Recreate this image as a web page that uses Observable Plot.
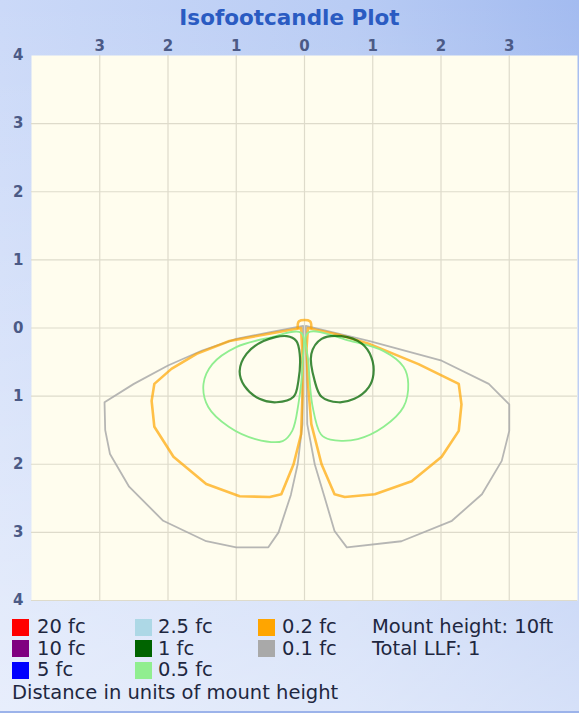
<!DOCTYPE html>
<html><head><meta charset="utf-8">
<script src="https://cdn.jsdelivr.net/npm/d3@7"></script>
<script src="https://cdn.jsdelivr.net/npm/@observablehq/plot@0.6"></script>
<style>
body{margin:0;background:#fff;}
#wrap{position:relative;width:579px;height:711px;border-bottom:2px solid #9cb3ea;overflow:hidden;
 font-family:"DejaVu Sans",sans-serif;
 background:linear-gradient(to bottom, rgba(255,255,255,0) 0%, rgba(255,255,255,0.55) 100%),
            linear-gradient(to right, #cbd9f8 0%, #b9ccf4 60%, #a3bbf0 100%);}
#title{position:absolute;left:0;top:5px;width:579px;text-align:center;font-weight:bold;font-size:21.5px;line-height:26px;color:#2a5bc2;}
#chart{position:absolute;left:0;top:0;}
.sw{position:absolute;width:17px;height:17px;}
.lg{position:absolute;font-size:19.5px;line-height:20px;color:#1e2740;white-space:nowrap;}
</style></head>
<body>
<div id="wrap">
  <div id="chart"></div>
  <div id="title"></div>
  <div id="legend"></div>
</div>
<script>
// ---- text ----
const titleText = "Isofootcandle Plot";
const footText = "Distance in units of mount height";
const infoLines = ["Mount height: 10ft", "Total LLF: 1"];

// ---- legend ----
const legendLabels = ["20 fc", "10 fc", "5 fc", "2.5 fc", "1 fc", "0.5 fc", "0.2 fc", "0.1 fc"];
const legendColors = ["#ff0000", "#800080", "#0000ff", "#add8e6", "#006400", "#90ee90", "#ffa500", "#a9a9a9"];

// ---- axes ----
const xTicks = [-3, -2, -1, 0, 1, 2, 3];
const yTicks = [-4, -3, -2, -1, 0, 1, 2, 3, 4];
const gridXValues = [-3, -2, -1, 0, 1, 2, 3];
const gridYValues = [-3, -2, -1, 0, 1, 2, 3, 4];

// ---- contours [x, y] in mount heights (y downward) ----
const fc01Left = [[-0.02,-0.03],[-0.5,0.06],[-1.0,0.16],[-1.5,0.33],[-2.0,0.55],[-2.5,0.82],[-2.93,1.09],[-2.92,1.5],[-2.85,1.85],[-2.57,2.33],[-2.07,2.83],[-1.44,3.13],[-1.0,3.22],[-0.53,3.22],[-0.38,3.0],[-0.2,2.45],[-0.1,2.0],[-0.03,1.41]];
const fc01Right = [[0.02,-0.03],[0.94,0.19],[2.01,0.48],[2.7,0.82],[3.0,1.12],[3.0,1.51],[2.89,1.95],[2.6,2.44],[2.16,2.83],[1.42,3.13],[0.62,3.22],[0.44,2.98],[0.29,2.47],[0.15,2.0],[0.04,1.41]];
const fc02Left = [[-0.05,0.0],[-0.6,0.1],[-1.1,0.19],[-1.58,0.38],[-1.95,0.6],[-2.2,0.82],[-2.24,1.07],[-2.2,1.45],[-1.92,1.89],[-1.44,2.29],[-0.95,2.47],[-0.51,2.48],[-0.34,2.44],[-0.16,2.0],[-0.05,1.56],[-0.03,1.0],[-0.03,0.4]];
const fc02Right = [[0.05,0.0],[0.5,0.1],[0.94,0.23],[1.67,0.53],[2.26,0.82],[2.3,1.12],[2.26,1.51],[2.01,1.89],[1.57,2.25],[1.03,2.44],[0.59,2.48],[0.44,2.44],[0.25,2.0],[0.1,1.41],[0.05,0.8],[0.03,0.3]];
const fc02Cap = [[-0.1,0.0],[-0.08,-0.1],[0.08,-0.1],[0.1,0.0]];
const fc05Left = [[-0.05,0.07],[-0.5,0.14],[-1.0,0.28],[-1.35,0.53],[-1.48,0.82],[-1.41,1.16],[-1.11,1.45],[-0.72,1.63],[-0.32,1.66],[-0.18,1.51],[-0.09,1.12],[-0.03,0.53]];
const fc05Right = [[0.05,0.07],[0.67,0.19],[1.16,0.34],[1.45,0.57],[1.52,0.82],[1.45,1.16],[1.16,1.45],[0.78,1.63],[0.38,1.64],[0.24,1.56],[0.12,1.16],[0.06,0.53]];
const fc1Left = [[-0.26,0.12],[-0.6,0.19],[-0.85,0.38],[-0.95,0.63],[-0.88,0.85],[-0.66,1.04],[-0.41,1.09],[-0.16,1.01],[-0.09,0.78],[-0.07,0.38],[-0.12,0.19]];
const fc1Right = [[0.25,0.16],[0.54,0.12],[0.84,0.23],[0.98,0.43],[1.01,0.68],[0.94,0.87],[0.73,1.04],[0.5,1.09],[0.25,1.01],[0.15,0.78],[0.1,0.38]];

const rows = (pts, lobe) => pts.map(([x, y]) => ({x, y, lobe}));
const fc01 = [...rows(fc01Left, "L"), ...rows(fc01Right, "R")];
const fc02 = [...rows(fc02Left, "L"), ...rows(fc02Right, "R")];
const fc05 = [...rows(fc05Left, "L"), ...rows(fc05Right, "R")];
const fc1 = [...rows(fc1Left, "L"), ...rows(fc1Right, "R")];
const cap = rows(fc02Cap, "C");

const labelColor = "#4b5a86";
const plot = Plot.plot({
  width: 579, height: 620,
  marginLeft: 31, marginRight: 2, marginTop: 55, marginBottom: 20,
  x: {domain: [-4, 4]},
  y: {domain: [-4, 4], reverse: true},
  style: {background: "transparent", fontFamily: "DejaVu Sans, sans-serif", fontSize: "15px", overflow: "visible"},
  marks: [
    Plot.frame({fill: "#fffdee", stroke: "none"}),
    Plot.ruleX(gridXValues, {stroke: "#dedbcb", strokeWidth: 1.2}),
    Plot.ruleY(gridYValues, {stroke: "#dedbcb", strokeWidth: 1.2}),
    Plot.line(fc01, {x: "x", y: "y", z: "lobe", curve: "linear-closed", strokeLinejoin: "round", stroke: legendColors[7], strokeOpacity: 0.85, strokeWidth: 1.8}),
    Plot.line(fc02, {x: "x", y: "y", z: "lobe", curve: "linear-closed", strokeLinejoin: "round", stroke: legendColors[6], strokeOpacity: 0.7, strokeWidth: 2.6}),
    Plot.line(cap, {x: "x", y: "y", curve: "catmull-rom", stroke: legendColors[6], strokeOpacity: 0.7, strokeWidth: 2.6}),
    Plot.line(fc05, {x: "x", y: "y", z: "lobe", curve: "catmull-rom-closed", stroke: legendColors[5], strokeWidth: 1.8}),
    Plot.line(fc1, {x: "x", y: "y", z: "lobe", curve: "catmull-rom-closed", stroke: legendColors[4], strokeOpacity: 0.75, strokeWidth: 2.2}),
    Plot.axisX(xTicks, {anchor: "top", tickSize: 0, tickPadding: 5, tickFormat: d => Math.abs(d), fill: labelColor, fontWeight: "bold", label: null}),
    Plot.axisY(yTicks, {anchor: "left", tickSize: 0, tickPadding: 8, tickFormat: d => Math.abs(d), fill: labelColor, fontWeight: "bold", label: null})
  ]
});
document.getElementById("chart").appendChild(plot);
document.getElementById("title").textContent = titleText;

// legend layout: 3 columns, filled column-wise
const legend = document.getElementById("legend");
const colSwatchX = [12, 135, 258];
const colTextX = [37, 158, 282];
const rowCY = [627, 648.5, 670];
legendLabels.forEach((lab, i) => {
  const c = Math.floor(i / 3), r = i % 3;
  const sw = document.createElement("div");
  sw.className = "sw";
  sw.style.left = colSwatchX[c] + "px";
  sw.style.top = (rowCY[r] - 8.5) + "px";
  sw.style.background = legendColors[i];
  legend.appendChild(sw);
  const t = document.createElement("div");
  t.className = "lg";
  t.style.left = colTextX[c] + "px";
  t.style.top = (rowCY[r] - 10) + "px";
  t.textContent = lab;
  legend.appendChild(t);
});
infoLines.forEach((s, i) => {
  const t = document.createElement("div");
  t.className = "lg";
  t.style.left = "372px";
  t.style.top = (rowCY[i] - 10) + "px";
  t.textContent = s;
  legend.appendChild(t);
});
const foot = document.createElement("div");
foot.className = "lg";
foot.style.left = "12px";
foot.style.top = "683px";
foot.textContent = footText;
legend.appendChild(foot);
</script>
</body></html>
